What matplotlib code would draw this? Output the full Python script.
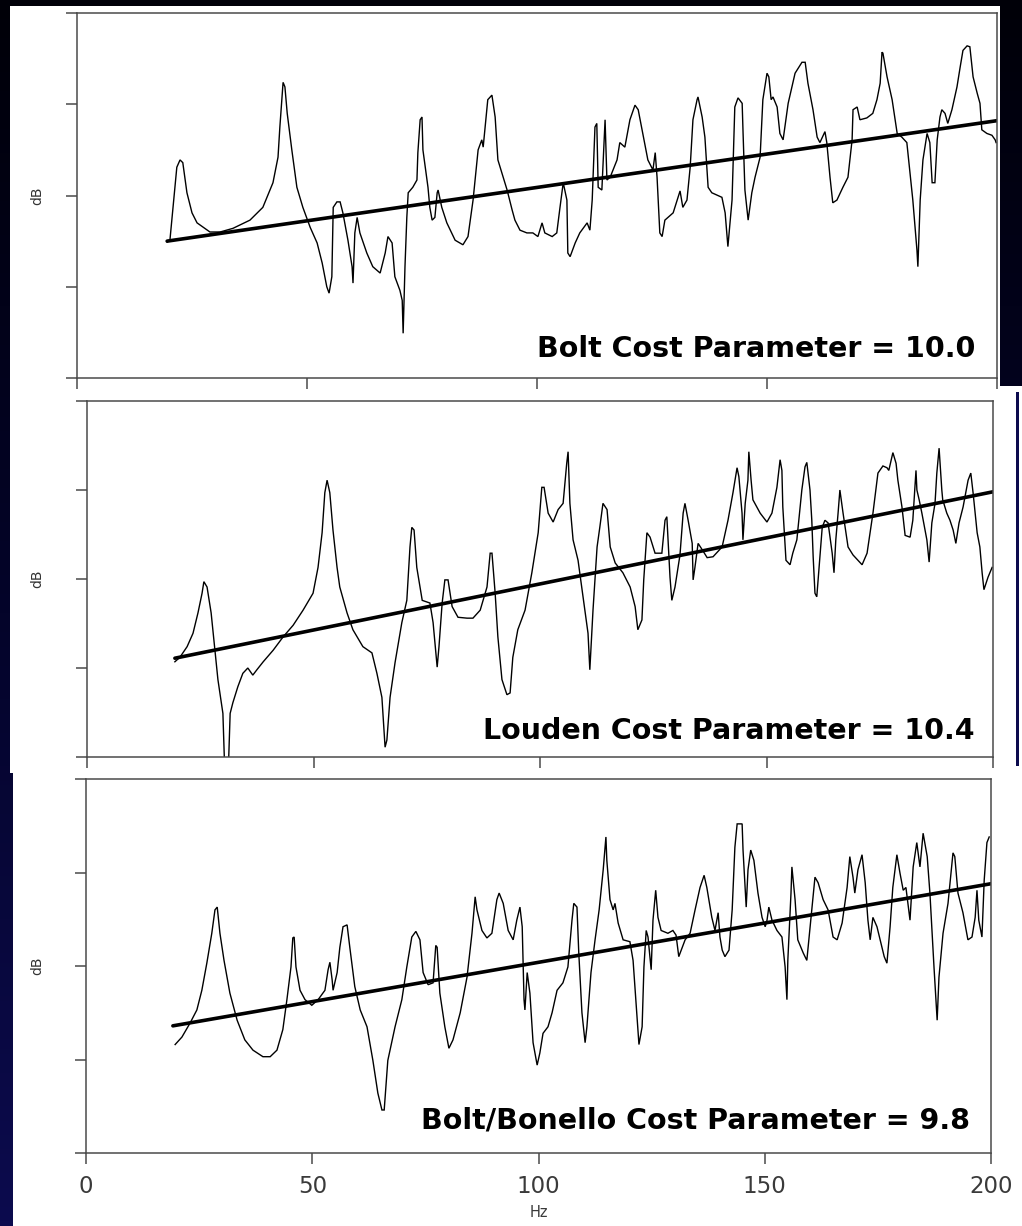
import numpy as np
import matplotlib
matplotlib.use("Agg")
import matplotlib.pyplot as plt
from matplotlib.patches import Rectangle
from matplotlib.colors import LinearSegmentedColormap

plt.rcParams['font.family'] = ['DejaVu Sans']

# ---------------- data ----------------
p1_hz = [19.6, 20.2, 21.7, 22.4, 23.0, 23.9, 25.0, 26.1, 28.9, 31.1, 33.9, 37.6, 40.4, 42.6, 43.7, 44.1,
         44.8, 45.2, 45.7, 46.7, 47.8, 49.1, 50.7, 52.2, 53.3, 54.3, 54.8, 55.4, 55.7, 56.5, 57.2, 57.8,
         58.9, 59.8, 60.0, 60.4, 60.9, 61.5, 63.0, 64.3, 65.9, 67.0, 67.6, 68.5, 69.1, 70.2, 70.7, 70.9,
         71.3, 71.7, 72.0, 73.0, 73.9, 74.1, 74.6, 75.0, 75.2, 76.3, 76.7, 77.2, 77.8, 78.3, 78.5, 79.3,
         80.4, 82.2, 83.9, 85.0, 86.1, 87.2, 88.0, 88.3, 89.3, 90.2, 90.9, 91.5, 93.5, 94.6, 95.2, 96.3,
         97.8, 99.1, 100.2, 101.1, 101.7, 103.3, 104.3, 105.0, 105.7, 106.5, 106.7, 107.2, 108.3, 109.3,
         110.9, 111.5, 112.0, 112.6, 113.0, 113.3, 114.1, 114.8, 115.2, 115.9, 117.4, 118.0, 119.1, 120.2,
         121.3, 122.0, 123.0, 124.1, 125.2, 125.7, 126.1, 126.7, 127.2, 127.8, 129.6, 131.1, 131.7, 132.6,
         133.3, 133.9, 134.8, 135.0, 135.9, 136.5, 137.2, 138.0, 140.2, 140.9, 141.5, 142.4, 143.0, 143.7,
         144.6, 144.8, 145.2, 145.9, 146.7, 147.4, 148.5, 149.1, 150.0, 150.4, 150.9, 151.3, 152.2, 152.8,
         153.5, 154.6, 156.1, 157.6, 158.3, 158.9, 160.0, 160.9, 161.5, 162.6, 163.0, 163.7, 164.3, 165.2,
         166.5, 167.6, 168.5, 168.7, 169.6, 170.2, 171.7, 173.0, 173.9, 174.6, 175.0, 175.2, 176.1, 177.2,
         178.3, 179.3, 180.4, 181.7, 182.6, 182.8, 183.3, 183.9, 184.8, 185.4, 185.9, 186.5, 187.0, 187.6,
         188.0, 188.7, 189.3, 190.2, 191.3, 192.0, 192.6, 193.5, 194.1, 194.8, 195.7, 196.3, 196.7, 197.8,
         198.9, 199.6, 199.8]
p1_db = [14.9, 15.1, 23.1, 23.9, 23.6, 20.3, 18.1, 17.0, 16.0, 16.0, 16.4, 17.3, 18.7, 21.4, 24.2, 27.5,
         32.4, 31.9, 29.0, 25.0, 20.9, 18.7, 16.5, 14.8, 12.6, 10.0, 9.3, 11.1, 18.7, 19.3, 19.3, 18.1,
         15.1, 12.2, 10.4, 15.9, 17.6, 15.9, 13.7, 12.2, 11.5, 13.7, 15.5, 14.8, 11.1, 9.6, 8.5, 4.9,
         12.2, 17.6, 20.3, 20.9, 21.7, 24.7, 28.3, 28.6, 25.0, 20.9, 18.7, 17.3, 17.6, 20.3, 20.6, 18.7,
         17.0, 15.1, 14.6, 15.5, 19.5, 25.0, 26.1, 25.3, 30.5, 31.0, 28.6, 23.9, 20.6, 18.4, 17.3, 16.2,
         15.9, 15.9, 15.5, 17.0, 15.9, 15.5, 15.9, 18.7, 21.4, 19.5, 13.7, 13.3, 14.8, 15.9,
         17.0, 16.2, 19.5, 27.5, 27.9, 20.9, 20.6, 28.3, 21.7, 22.0, 23.9, 25.8, 25.3, 28.3,
         29.9, 29.4, 26.8, 23.9, 22.8, 24.7, 22.0, 15.9, 15.5, 17.3, 18.1, 20.5, 18.7, 19.5,
         23.1, 28.3, 30.5, 30.8, 28.6, 26.4, 20.9, 20.3, 19.8, 18.1, 14.4, 19.5, 29.7, 30.7,
         30.1, 26.8, 20.6, 17.3, 20.3, 22.0, 24.2, 30.5, 33.4, 33.0, 30.5, 30.8, 29.7, 26.8,
         26.1, 30.1, 33.4, 34.6, 34.6, 32.3, 29.4, 26.4, 25.8, 27.0, 25.8, 22.0, 19.2, 19.5,
         20.9, 22.0, 26.1, 29.4, 29.7, 28.3, 28.5, 29.0, 30.5, 32.3, 35.7, 35.6, 33.0, 30.5,
         26.8, 26.4, 25.8, 19.5, 14.0, 12.2, 19.5, 23.9, 26.8, 25.8, 21.4, 21.4, 26.1, 28.6,
         29.4, 29.0, 27.9, 29.4, 31.9, 34.1, 35.9, 36.4, 36.3, 33.0, 31.2, 30.1, 27.2, 26.8,
         26.6, 26.1, 25.8]

p2_hz = [19.4, 20.5, 22.1, 23.4, 24.5, 25.4, 25.8, 26.5, 27.4, 28.3, 28.9, 30.0, 30.5, 31.1, 31.6, 32.2,
         33.3, 34.4, 35.5, 36.6, 37.5, 38.9, 41.1, 43.3, 45.5, 47.7, 49.9, 51.0, 51.9, 52.5, 53.0, 53.6,
         54.3, 55.2, 55.8, 57.4, 58.7, 60.9, 62.9, 64.0, 65.1, 65.8, 66.2, 66.9, 68.0, 69.5, 70.6, 71.3,
         71.7, 72.2, 72.8, 74.0, 75.7, 76.4, 77.3, 77.7, 78.4, 79.0, 79.7, 80.6, 81.9, 83.9, 85.2, 86.8,
         88.3, 89.0, 89.4, 90.1, 90.7, 91.6, 92.7, 93.4, 94.0, 95.1, 96.7, 98.2, 99.6, 100.4, 100.9, 101.8,
         102.9, 104.0, 105.1, 105.9, 106.2, 106.6, 107.3, 108.4, 109.5, 110.6, 111.0, 111.7, 112.6, 113.2,
         113.9, 114.8, 115.5, 116.6, 118.3, 119.9, 121.0, 121.6, 122.5, 122.9, 123.6, 124.3, 125.4, 126.9,
         127.6, 128.0, 128.7, 129.1, 129.8, 130.9, 131.6, 132.0, 132.7, 133.6, 133.8, 134.2, 134.9, 135.8,
         136.9, 138.2, 140.2, 141.5, 142.6, 143.5, 143.9, 144.6, 144.8, 145.3, 145.9, 146.1, 146.6, 147.0,
         148.6, 150.1, 151.2, 152.3, 153.0, 153.4, 153.6, 154.3, 155.2, 155.8, 156.7, 157.8, 158.5, 158.9,
         159.6, 160.0, 160.3, 160.7, 161.1, 161.6, 162.3, 162.9, 163.6, 164.5, 164.9, 165.3, 165.8, 166.2,
         166.9, 168.0, 169.1, 171.1, 172.2, 173.5, 174.6, 175.7, 176.6, 177.0, 177.9, 178.6, 179.0, 179.9,
         180.6, 181.7, 182.3, 183.0, 183.2, 183.7, 184.3, 185.4, 185.9, 186.5, 187.2, 187.6, 188.1, 188.7,
         188.9, 189.8, 190.5, 191.2, 191.8, 192.5, 193.4, 194.5, 195.1, 195.6, 196.5, 197.1, 197.6, 198.0,
         198.9, 199.8]
p2_db = [10.7, 11.2, 12.4, 13.9, 16.2, 18.4, 19.7, 19.1, 16.2, 11.7, 8.7, 4.9, -3.0, -3.0, 4.9, 6.1,
         7.9, 9.4, 10.0, 9.2, 9.8, 10.7, 12.0, 13.5, 14.8, 16.5, 18.4, 21.3, 25.2, 29.7, 31.1, 29.7,
         25.5, 21.3, 19.1, 16.2, 14.3, 12.4, 11.7, 9.4, 6.7, 1.1, 1.9, 6.7, 10.6, 15.1, 17.6, 23.6,
         25.8, 25.5, 21.3, 17.6, 17.3, 15.1, 10.1, 12.4, 17.3, 19.9, 19.9, 16.9, 15.7, 15.6, 15.6, 16.5,
         19.1, 22.9, 22.9, 18.4, 13.5, 8.7, 7.0, 7.2, 11.2, 14.3, 16.5, 20.7, 25.2, 30.3, 30.3, 27.4,
         26.4, 27.8, 28.5, 33.0, 34.3, 28.5, 24.4, 22.1, 18.0, 13.9, 9.8, 16.5, 23.6, 25.8,
         28.5, 27.8, 23.6, 21.8, 20.7, 19.1, 16.9, 14.3, 15.4, 19.9, 25.2, 24.7, 22.9, 22.9,
         26.6, 27.0, 20.2, 17.6, 19.1, 22.7, 27.4, 28.5, 26.6, 24.0, 19.9, 21.3, 24.0, 23.3,
         22.4, 22.5, 23.6, 26.6, 29.7, 32.5, 31.5, 27.4, 24.4, 28.5, 31.1, 34.3, 31.1, 28.9,
         27.4, 26.4, 27.4, 30.3, 33.4, 32.2, 28.1, 22.1, 21.6, 22.9, 24.4, 30.0, 32.6, 33.1,
         30.0, 26.6, 22.5, 18.4, 18.0, 21.3, 25.8, 26.6, 26.3, 22.9, 20.7, 24.4, 27.4, 30.0,
         27.4, 23.6, 22.7, 21.6, 22.9, 27.4, 31.9, 32.7, 32.5, 32.2, 34.2, 33.0, 31.1, 28.1,
         24.9, 24.7, 26.6, 32.2, 30.0, 28.9, 27.4, 24.4, 21.9, 26.3, 28.5, 31.9, 34.7, 30.0,
         28.9, 27.4, 26.6, 25.5, 24.0, 26.3, 28.1, 31.1, 31.9, 29.7, 25.2, 23.6, 20.7, 18.8,
         20.2, 21.3]

p3_hz = [19.7, 21.2, 23.0, 24.5, 25.6, 26.7, 27.8, 28.5, 29.0, 29.6, 30.5, 31.8, 33.4, 35.1, 36.9, 39.1,
         40.7, 42.2, 43.5, 44.4, 45.3, 45.7, 46.0, 46.4, 47.3, 48.4, 49.9, 51.3, 52.8, 53.5, 53.9, 54.4,
         54.6, 55.5, 56.1, 56.8, 57.7, 58.3, 59.4, 60.6, 62.1, 63.4, 64.5, 65.4, 65.9, 66.7, 68.3, 69.8,
         70.9, 72.0, 72.9, 73.8, 74.5, 75.6, 76.7, 77.3, 77.6, 78.2, 79.3, 80.2, 81.1, 82.7, 84.2, 85.3,
         86.0, 86.4, 87.5, 88.6, 89.7, 90.8, 91.3, 92.2, 93.3, 94.4, 95.2, 95.9, 96.4, 96.8, 97.0, 97.5,
         98.1, 98.8, 99.7, 100.3, 101.0, 102.1, 103.0, 104.1, 105.4, 106.5, 107.4, 107.8, 108.5, 108.9,
         109.6, 110.3, 110.7, 111.6, 112.5, 113.4, 114.3, 114.9, 115.1, 115.8, 116.5, 116.9, 117.6, 118.7,
         120.2, 120.9, 121.5, 122.2, 122.9, 123.3, 123.8, 124.2, 124.9, 125.3, 125.9, 126.4, 127.1, 128.6,
         129.7, 130.4, 131.0, 132.4, 133.5, 134.6, 135.7, 136.6, 137.2, 138.3, 139.0, 139.7, 140.1, 140.6,
         141.2, 142.1, 142.8, 143.4, 143.9, 145.0, 145.2, 145.9, 146.3, 146.9, 147.6, 148.5, 149.4, 150.1,
         150.5, 150.9, 151.6, 152.7, 153.8, 154.5, 154.9, 155.1, 155.8, 156.0, 156.7, 157.3, 158.5, 159.3,
         160.4, 161.1, 161.8, 162.9, 164.0, 165.1, 166.0, 167.1, 168.2, 168.8, 169.5, 169.9, 170.6, 171.5,
         172.2, 172.8, 173.3, 173.9, 174.8, 175.5, 176.4, 177.0, 177.7, 178.3, 179.2, 179.9, 180.6, 181.2,
         182.1, 182.8, 183.6, 184.3, 185.0, 185.9, 186.5, 187.4, 188.1, 188.5, 189.4, 190.5, 191.6, 192.0,
         192.7, 193.8, 194.9, 195.8, 196.5, 196.9, 197.3, 198.0, 198.5, 199.1, 199.6]
p3_db = [11.6, 12.4, 13.9, 15.3, 17.4, 20.3, 23.5, 26.0, 26.3, 23.5, 20.6, 17.1, 14.2, 12.1, 11.0, 10.3,
         10.3, 11.0, 13.2, 16.4, 19.9, 23.0, 23.1, 19.9, 17.4, 16.4, 15.8, 16.4, 17.4, 19.6, 20.4, 18.5,
         17.4, 19.3, 22.0, 24.2, 24.4, 22.0, 17.8, 15.3, 13.5, 9.9, 6.4, 4.6, 4.6, 9.9, 13.5, 16.4,
         19.9, 23.1, 23.7, 22.8, 19.3, 18.0, 18.2, 22.2, 22.0, 17.1, 13.5, 11.2, 12.1, 15.0, 18.8, 23.5,
         27.4, 26.0, 23.8, 23.0, 23.5, 27.1, 27.8, 26.7, 23.8, 22.8, 24.9, 26.3, 24.2, 16.4, 15.3, 19.3,
         17.1, 11.8, 9.4, 10.7, 12.8, 13.5, 15.0, 17.4, 18.2, 19.9, 24.9, 26.7, 26.3, 21.4,
         15.0, 11.8, 13.5, 19.3, 22.8, 26.0, 30.3, 33.8, 31.3, 27.1, 26.0, 26.7, 24.6, 22.8,
         22.6, 20.6, 16.4, 11.6, 13.5, 19.9, 23.8, 23.1, 19.6, 24.9, 28.1, 25.2, 23.8, 23.5,
         23.8, 23.3, 21.0, 22.8, 23.5, 26.0, 28.4, 29.7, 28.4, 25.2, 23.8, 25.7, 23.1, 21.7,
         21.0, 21.7, 26.0, 32.7, 35.2, 35.2, 32.4, 26.3, 30.3, 32.4, 31.3, 27.8, 25.2, 24.2,
         24.9, 26.3, 24.9, 23.8, 23.1, 19.9, 16.4, 20.6, 27.8, 30.6, 27.1, 22.8, 21.4, 20.6,
         26.0, 29.5, 28.9, 27.1, 26.0, 23.1, 22.8, 24.6, 28.4, 31.7, 29.5, 27.8, 30.3, 31.9,
         28.9, 24.9, 22.8, 25.2, 24.2, 22.8, 21.0, 20.3, 24.2, 28.4, 31.9, 29.9, 28.1, 28.4,
         24.9, 30.6, 33.2, 30.6, 34.2, 31.7, 27.8, 19.9, 14.2, 18.8, 23.5, 26.7, 32.1, 31.7,
         27.8, 25.7, 22.8, 23.1, 25.2, 28.1, 24.9, 23.1, 29.2, 33.2, 33.8]

# fitted trend lines (start / end)
trend_hz = [[19.6, 200.0], [19.4, 200.0], [19.2, 200.0]]
trend_db = [[15.0, 28.2], [11.1, 29.8], [13.6, 28.8]]

labels = ["Bolt Cost Parameter = 10.0",
          "Louden Cost Parameter = 10.4",
          "Bolt/Bonello Cost Parameter = 9.8"]
x_ticks = [0, 50, 100, 150, 200]
x_tick_labels = ["0", "50", "100", "150", "200"]
y_ticks = [0, 10, 20, 30, 40]

# ---------------- figure ----------------
W, H = 1022, 1226
fig = plt.figure(figsize=(W / 100, H / 100), dpi=100)

bg = fig.add_axes([0, 0, 1, 1], zorder=-10)
grad = np.linspace(0, 1, 256)[:, None]
cmap = LinearSegmentedColormap.from_list("bg", ["#000008", "#04042a", "#0c0b4e"])
bg.imshow(grad, aspect="auto", cmap=cmap, extent=[0, W, H, 0])
bg.set_xlim(0, W)
bg.set_ylim(H, 0)
bg.axis("off")
# white slide panels
bg.add_patch(Rectangle((10, 6), 990, 384, facecolor="white", edgecolor="none"))
bg.add_patch(Rectangle((10, 386), 1012, 387, facecolor="white", edgecolor="none"))
bg.add_patch(Rectangle((13, 770), 1009, 456, facecolor="white", edgecolor="none"))
bg.add_patch(Rectangle((1016, 392), 3, 374, facecolor="#0c0b4e", edgecolor="none"))

positions = [
    [77 / W, 1 - 378 / H, 920 / W, 365 / H],
    [87 / W, 1 - 757 / H, 906 / W, 356 / H],
    [86 / W, 1 - 1153 / H, 905 / W, 374 / H],
]
text_pos = [(0.976, 0.079), (0.980, 0.073), (0.977, 0.088)]
ylab_x = 37

data = [(p1_hz, p1_db), (p2_hz, p2_db), (p3_hz, p3_db)]
spine_col = "#4a4a4a"
for i, pos in enumerate(positions):
    ax = fig.add_axes(pos)
    ax.set_facecolor("white")
    hz, db = data[i]
    ax.plot(hz, db, color="black", lw=1.0, solid_joinstyle="miter")
    ax.plot(trend_hz[i], trend_db[i], color="black", lw=2.6, solid_capstyle="round")
    ax.set_xlim(0, 200)
    ax.set_ylim(0, 40)
    ax.set_xticks(x_ticks)
    ax.set_yticks(y_ticks)
    ax.tick_params(direction="out", length=8, width=1.1, color=spine_col)
    ax.set_yticklabels([])
    if i == 2:
        ax.set_xticklabels(x_tick_labels, fontsize=16.5, color="#3a3a3a")
        ax.tick_params(axis="x", pad=8)
        ax.set_xlabel("Hz", fontsize=10.5, color="#3a3a3a", labelpad=5)
    else:
        ax.set_xticklabels([])
    for s in ax.spines.values():
        s.set_color(spine_col)
        s.set_linewidth(1.1)
    tx, ty = text_pos[i]
    ax.text(tx, ty, labels[i], transform=ax.transAxes, ha="right", va="center",
            fontsize=20.5, fontweight="bold", color="black")
    # dB label
    ymid = pos[1] + pos[3] / 2
    fig.text(ylab_x / W, ymid, "dB", rotation=90, ha="center", va="center",
             fontsize=10, color="#333333")

fig.savefig("out.png", dpi=100)
